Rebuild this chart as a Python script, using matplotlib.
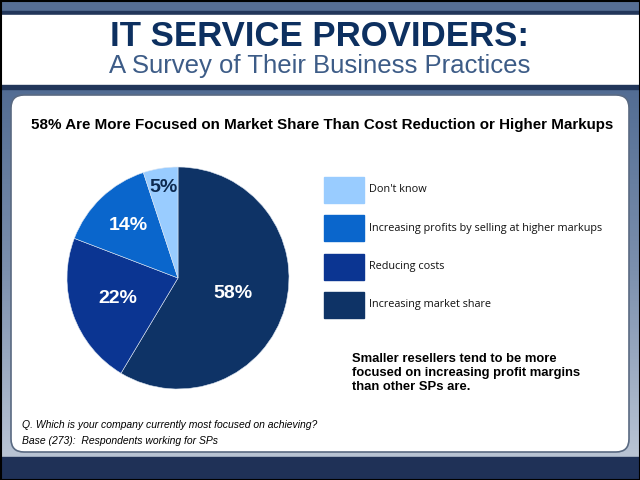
import matplotlib
matplotlib.use("Agg")
import matplotlib.pyplot as plt
import numpy as np
from matplotlib.patches import Rectangle, FancyBboxPatch
from matplotlib.colors import LinearSegmentedColormap

# data, clockwise from 12 o'clock
categories = ["Increasing market share", "Reducing costs",
              "Increasing profits by selling at higher markups", "Don't know"]
shares = [58, 22, 14, 5]
slice_colors = ["#0e3366", "#0b3592", "#0a66cc", "#99ccff"]
label_colors = ["white", "white", "white", "#0d2a50"]
label_dist = [0.51, 0.57, 0.65, 0.83]

title = "IT SERVICE PROVIDERS:"
subtitle = "A Survey of Their Business Practices"
chart_title = "58% Are More Focused on Market Share Than Cost Reduction or Higher Markups"
note = "Smaller resellers tend to be more\nfocused on increasing profit margins\nthan other SPs are."
footnote = ["Q. Which is your company currently most focused on achieving?",
            "Base (273):  Respondents working for SPs"]

W, H = 640, 480
fig = plt.figure(figsize=(6.4, 4.8), dpi=100)
bg = fig.add_axes([0, 0, 1, 1])
bg.set_xlim(0, W)
bg.set_ylim(H, 0)
bg.axis("off")

# frame
grad = LinearSegmentedColormap.from_list("frame", ["#526c93", "#7c90ae", "#b9c4d4"])
bg.imshow(np.linspace(0, 1, 200).reshape(-1, 1), cmap=grad, aspect="auto",
          extent=[0, W, 457, 86], zorder=0)
bg.add_patch(Rectangle((0, 0), W, 12, color="#566e94", zorder=1))
bg.add_patch(Rectangle((0, 11), W, 4, color="#22365a", zorder=1))
bg.add_patch(Rectangle((0, 15), W, 70, color="white", zorder=1))
bg.add_patch(Rectangle((0, 85), W, 4, color="#22365a", zorder=1))
bg.add_patch(Rectangle((0, 457), W, 23, color="#1f3157", zorder=1))
bg.add_patch(FancyBboxPatch((11, 95), 618, 357,
                            boxstyle="round,pad=0,rounding_size=13",
                            fc="white", ec="#5a6a82", lw=1.2, zorder=2))
bg.add_patch(Rectangle((0.5, 0.5), W - 1, H - 1, fill=False, ec="black", lw=1.5, zorder=5))

bg.text(320, 36, title, ha="center", va="center", fontsize=25, fontweight="bold",
        color="#0d3060", family="Liberation Sans", zorder=3)
bg.text(320, 66, subtitle, ha="center", va="center", fontsize=18.5,
        color="#3d5c87", family="Liberation Sans", zorder=3)
bg.text(31, 125, chart_title, ha="left", va="center", fontsize=10.9, fontweight="bold",
        color="black", family="Liberation Sans", zorder=3)

# legend, top to bottom in reverse data order
for i, k in enumerate(reversed(range(len(categories)))):
    y = 177 + i * 38.3
    bg.add_patch(Rectangle((324, y), 40, 26, color=slice_colors[k], zorder=3))
    bg.text(369, y + 13, categories[k], ha="left", va="center", fontsize=7.8,
            color="#111111", family="Open Sans", zorder=3)

bg.text(352, 373, note, ha="left", va="center", fontsize=9.4, fontweight="bold",
        color="black", family="Liberation Sans", linespacing=1.27, zorder=3)
for i, line in enumerate(footnote):
    bg.text(22, 425 + i * 16, line, ha="left", va="center", fontsize=7.5, style="italic",
            color="black", family="Liberation Sans", zorder=3)

# pie
cx, cy, r = 178, 278, 111
pax = fig.add_axes([(cx - r) / W, (H - cy - r) / H, 2 * r / W, 2 * r / H])
wedges, _ = pax.pie(shares, colors=slice_colors, startangle=90, counterclock=False,
                    wedgeprops=dict(linewidth=0.4, edgecolor="#dde6f2"))
for w, v, c, d in zip(wedges, shares, label_colors, label_dist):
    ang = np.deg2rad((w.theta1 + w.theta2) / 2)
    pax.text(d * np.cos(ang), d * np.sin(ang), f"{v}%", ha="center", va="center",
             fontsize=14, fontweight="bold", color=c, family="Liberation Sans")
pax.set_xlim(-1, 1)
pax.set_ylim(-1, 1)
pax.set_aspect("auto")
pax.axis("off")

fig.savefig("out.png", dpi=100)
